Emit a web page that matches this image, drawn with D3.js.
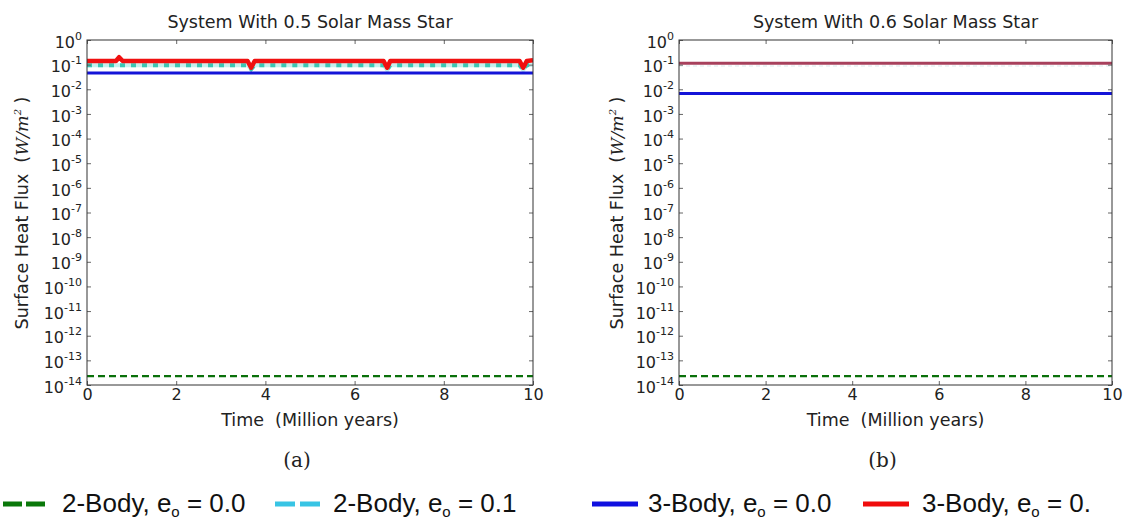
<!DOCTYPE html>
<html>
<head>
<meta charset="utf-8">
<script src="https://cdn.jsdelivr.net/npm/d3@7"></script>
<style>
  body { margin: 0; background: #fff; }
  svg { display: block; }
</style>
</head>
<body>
<div id="chart"></div>
<script>
// tick values
var timeTicks = [0, 2, 4, 6, 8, 10];
var fluxExponents = [0, -1, -2, -3, -4, -5, -6, -7, -8, -9, -10, -11, -12, -13, -14];

// panel (a): 0.5 solar mass star, [time (Myr), flux W/m^2]
var greenA = [[0, 2.3e-14], [10, 2.3e-14]];
var cyanA = [[0, 0.095], [3.6, 0.095], [3.68, 0.065], [3.76, 0.095], [6.65, 0.095], [6.73, 0.06],
  [6.8, 0.095], [9.7, 0.095], [9.78, 0.06], [9.86, 0.095], [10, 0.1]];
var blueA = [[0, 0.046], [10, 0.046]];
var redA = [[0, 0.14], [0.65, 0.14], [0.72, 0.2], [0.8, 0.14], [3.6, 0.14], [3.68, 0.075], [3.76, 0.14],
  [6.65, 0.14], [6.73, 0.075], [6.8, 0.14], [9.7, 0.14], [9.78, 0.075], [9.86, 0.14], [10, 0.15]];

// panel (b): 0.6 solar mass star
var greenB = [[0, 2.3e-14], [10, 2.3e-14]];
var cyanB = [[0, 0.088], [10, 0.088]];
var blueB = [[0, 0.0068], [10, 0.0068]];
var redB = [[0, 0.115], [10, 0.115]];

var legendNames = ['2-Body, e', '2-Body, e', '3-Body, e', '3-Body, e'];
var legendValues = [' = 0.0', ' = 0.1', ' = 0.0', ' = 0.'];

var svg = d3.select('#chart').append('svg')
  .attr('width', 1138)
  .attr('height', 531)
  .style('background', '#fff');

var plotTop = 40, plotBottom = 385;
var sans = 'DejaVu Sans, sans-serif';

var panels = [
  {x0: 87, x1: 533, title: 'System With 0.5 Solar Mass Star', caption: '(a)', labelX: 28,
   series: [greenA, cyanA, blueA, redA], cyanColor: '#3cc6b4', cyanBand: '#c6f0ee', redColor: '#f01010'},
  {x0: 679, x1: 1112, title: 'System With 0.6 Solar Mass Star', caption: '(b)', labelX: 623,
   series: [greenB, cyanB, blueB, redB], cyanColor: '#e8f0f2', cyanBand: null, redColor: '#a8405c'}
];

panels.forEach(function(p, i) {
  var x = d3.scaleLinear().domain([0, 10]).range([p.x0, p.x1]);
  var y = d3.scaleLog().domain([1e-14, 1]).range([plotBottom, plotTop]);
  var g = svg.append('g');

  g.append('clipPath').attr('id', 'clip-' + i)
    .append('rect')
    .attr('x', p.x0).attr('y', plotTop)
    .attr('width', p.x1 - p.x0).attr('height', plotBottom - plotTop);

  var line = d3.line().x(function(d) { return x(d[0]); }).y(function(d) { return y(d[1]); });
  var plot = g.append('g').attr('clip-path', 'url(#clip-' + i + ')');

  // green dashed 2-body e=0.0
  plot.append('path').datum(p.series[0])
    .attr('d', line).attr('fill', 'none')
    .attr('stroke', '#0a700a').attr('stroke-width', 2.2)
    .attr('stroke-dasharray', '7,4');

  // red 3-body e=0.1 sits under the others in panel b
  var redWidth = i == 0 ? 4.5 : 3;
  if (i == 1) {
    plot.append('path').datum(p.series[3])
      .attr('d', line).attr('fill', 'none')
      .attr('stroke', p.redColor).attr('stroke-width', redWidth);
  }

  // cyan dashed 2-body e=0.1
  if (p.cyanBand) {
    plot.append('path').datum(p.series[1])
      .attr('d', line).attr('fill', 'none')
      .attr('stroke', p.cyanBand).attr('stroke-width', 4);
  }
  plot.append('path').datum(p.series[1])
    .attr('d', line).attr('fill', 'none')
    .attr('stroke', p.cyanColor).attr('stroke-width', p.cyanBand ? 4 : 1.6)
    .attr('stroke-dasharray', p.cyanBand ? '5,6' : '4,3');

  // blue 3-body e=0.0
  plot.append('path').datum(p.series[2])
    .attr('d', line).attr('fill', 'none')
    .attr('stroke', '#1414d8').attr('stroke-width', 3);

  if (i == 0) {
    plot.append('path').datum(p.series[3])
      .attr('d', line).attr('fill', 'none')
      .attr('stroke', p.redColor).attr('stroke-width', redWidth)
      .attr('stroke-linejoin', 'round');
  }

  // axes, ticks inside
  var fluxTicks = fluxExponents.map(function(e) { return Math.pow(10, e); });
  var left = g.append('g').attr('transform', 'translate(' + p.x0 + ',0)')
    .call(d3.axisLeft(y).tickValues(fluxTicks).tickSize(-4).tickPadding(5));
  left.select('.domain').remove();
  left.selectAll('line').attr('stroke', '#666');
  left.selectAll('text')
    .attr('font-family', sans).attr('font-size', 16).attr('fill', '#222')
    .attr('dy', '0.45em')
    .text(null)
    .each(function(d) {
      var t = d3.select(this);
      var e = Math.round(Math.log10(d));
      t.append('tspan').text('10');
      t.append('tspan').attr('dy', -8).attr('font-size', 11).text(e);
    });

  var right = g.append('g').attr('transform', 'translate(' + p.x1 + ',0)')
    .call(d3.axisRight(y).tickValues(fluxTicks).tickSize(-4).tickFormat(''));
  right.select('.domain').remove();
  right.selectAll('line').attr('stroke', '#666');

  var bot = g.append('g').attr('transform', 'translate(0,' + plotBottom + ')')
    .call(d3.axisBottom(x).tickValues(timeTicks).tickSize(-4).tickPadding(4));
  bot.select('.domain').remove();
  bot.selectAll('line').attr('stroke', '#666');
  bot.selectAll('text').attr('font-family', sans).attr('font-size', 16).attr('fill', '#222');

  var topAx = g.append('g').attr('transform', 'translate(0,' + plotTop + ')')
    .call(d3.axisTop(x).tickValues(timeTicks).tickSize(-4).tickFormat(''));
  topAx.select('.domain').remove();
  topAx.selectAll('line').attr('stroke', '#666');

  g.append('rect')
    .attr('x', p.x0).attr('y', plotTop)
    .attr('width', p.x1 - p.x0).attr('height', plotBottom - plotTop)
    .attr('fill', 'none').attr('stroke', '#333').attr('stroke-width', 1);

  // title
  g.append('text')
    .attr('x', (p.x0 + p.x1) / 2).attr('y', 28)
    .attr('text-anchor', 'middle')
    .attr('font-family', sans).attr('font-size', 17.5).attr('fill', '#222')
    .text(p.title);

  // x label
  g.append('text')
    .attr('x', (p.x0 + p.x1) / 2).attr('y', 426)
    .attr('text-anchor', 'middle')
    .attr('font-family', sans).attr('font-size', 17.5).attr('fill', '#222')
    .attr('xml:space', 'preserve')
    .text('Time  (Million years)');

  // y label
  var yl = g.append('text')
    .attr('transform', 'translate(' + p.labelX + ',213) rotate(-90)')
    .attr('text-anchor', 'middle')
    .attr('font-family', sans).attr('font-size', 17.5).attr('fill', '#222')
    .attr('xml:space', 'preserve');
  yl.append('tspan').text('Surface Heat Flux  (');
  yl.append('tspan').attr('font-family', 'DejaVu Serif, serif').attr('font-style', 'italic').text('W/m');
  yl.append('tspan').attr('font-family', 'DejaVu Serif, serif').attr('font-style', 'italic')
    .attr('font-size', 10).attr('dy', -7).text('2');
  yl.append('tspan').attr('dy', 7).text(' )');

  // caption
  g.append('text')
    .attr('x', (p.x0 + p.x1) / 2 - 13).attr('y', 467)
    .attr('text-anchor', 'middle')
    .attr('font-family', 'DejaVu Serif, serif').attr('font-size', 20).attr('fill', '#222')
    .text(p.caption);
});

// legend
var legendX = [3, 275, 592, 863];
var legendTextX = [62, 333, 648, 922];
var legendStyle = [
  {color: '#0a780a', dash: '19,4'},
  {color: '#38c4e4', dash: '20,5'},
  {color: '#1010e0', dash: null},
  {color: '#f00c0c', dash: null}
];

legendNames.forEach(function(name, i) {
  var lg = svg.append('g');
  lg.append('line')
    .attr('x1', legendX[i]).attr('x2', legendX[i] + 46)
    .attr('y1', 504).attr('y2', 504)
    .attr('stroke', legendStyle[i].color).attr('stroke-width', 5)
    .attr('stroke-dasharray', legendStyle[i].dash);
  var t = lg.append('text')
    .attr('x', legendTextX[i]).attr('y', 512)
    .attr('font-family', 'Liberation Sans, Arial, sans-serif').attr('font-size', 26).attr('fill', '#111')
    .attr('xml:space', 'preserve');
  t.append('tspan').text(name);
  t.append('tspan').attr('font-size', 15).attr('dy', 5).text('o');
  t.append('tspan').attr('dy', -5).text(legendValues[i]);
});
</script>
</body>
</html>
